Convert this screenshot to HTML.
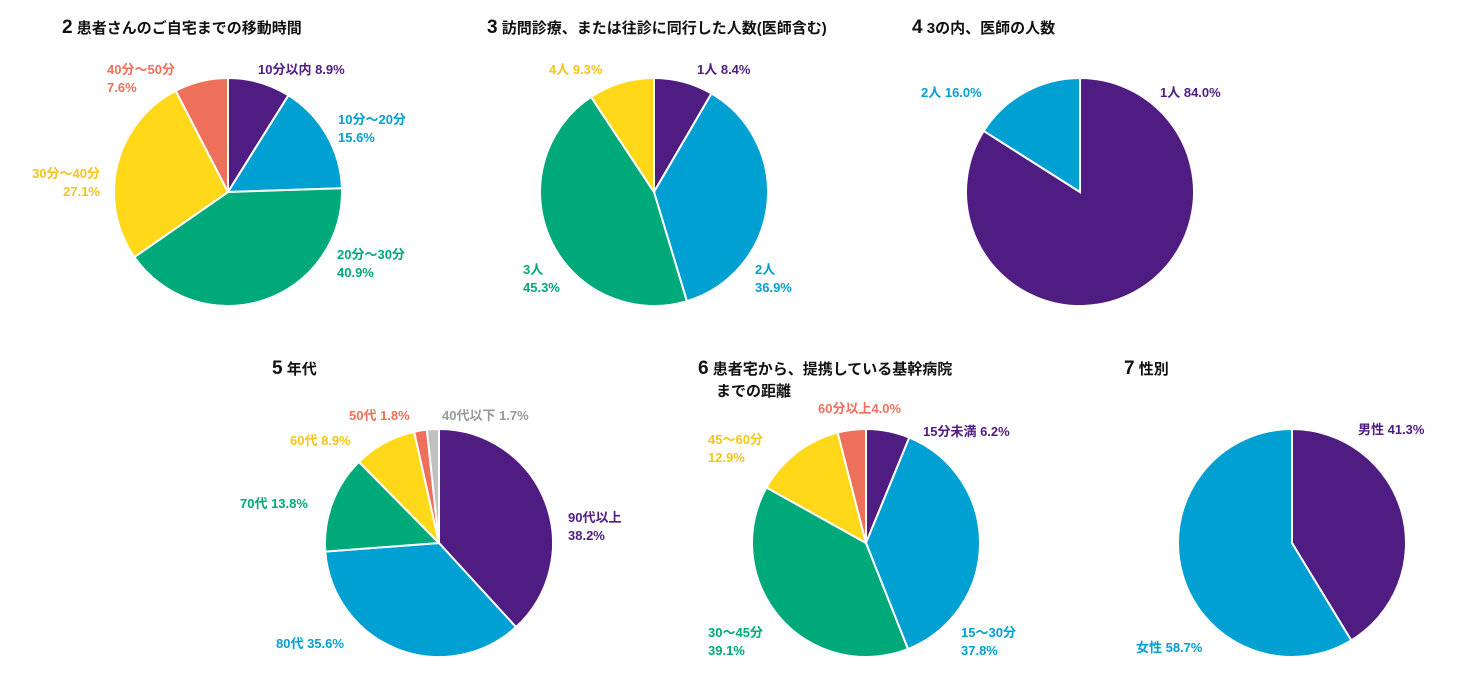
<!DOCTYPE html>
<html><head><meta charset="utf-8"><style>
html,body{margin:0;padding:0;background:#fff;}
svg{display:block;font-family:"Liberation Sans","Noto Sans CJK JP",sans-serif;}
.t{font-size:15px;font-weight:bold;fill:#111;}
.n{font-size:19px;font-weight:bold;fill:#111;}
.l{font-size:13px;font-weight:bold;}
</style></head><body>
<svg id="s" width="1464" height="683" viewBox="0 0 1464 683">
<g id="pies"></g>
<text x="62" y="33" class="t"><tspan class="n">2</tspan> 患者さんのご自宅までの移動時間</text>
<text x="487" y="33" class="t"><tspan class="n">3</tspan> 訪問診療、または往診に同行した人数(医師含む)</text>
<text x="912" y="33" class="t"><tspan class="n">4</tspan> 3の内、医師の人数</text>
<text x="272" y="374" class="t"><tspan class="n">5</tspan> 年代</text>
<text x="698" y="374" class="t"><tspan class="n">6</tspan> 患者宅から、提携している基幹病院</text>
<text x="716" y="396" class="t">までの距離</text>
<text x="1124" y="374" class="t"><tspan class="n">7</tspan> 性別</text>

<g class="l">
<text x="258" y="74" fill="#4f1c82">10分以内 8.9%</text>
<text x="338" y="124" fill="#00a0d2">10分～20分</text><text x="338" y="142" fill="#00a0d2">15.6%</text>
<text x="337" y="259" fill="#00a97a">20分～30分</text><text x="337" y="277" fill="#00a97a">40.9%</text>
<text x="100" y="178" fill="#f5c518" text-anchor="end">30分～40分</text><text x="100" y="196" fill="#f5c518" text-anchor="end">27.1%</text>
<text x="107" y="74" fill="#ee6f5a">40分～50分</text><text x="107" y="92" fill="#ee6f5a">7.6%</text>

<text x="697" y="74" fill="#4f1c82">1人 8.4%</text>
<text x="755" y="274" fill="#00a0d2">2人</text><text x="755" y="292" fill="#00a0d2">36.9%</text>
<text x="523" y="274" fill="#00a97a">3人</text><text x="523" y="292" fill="#00a97a">45.3%</text>
<text x="549" y="74" fill="#f5c518">4人 9.3%</text>

<text x="1160" y="97" fill="#4f1c82">1人 84.0%</text>
<text x="921" y="97" fill="#00a0d2">2人 16.0%</text>

<text x="568" y="522" fill="#4f1c82">90代以上</text><text x="568" y="540" fill="#4f1c82">38.2%</text>
<text x="276" y="648" fill="#00a0d2">80代 35.6%</text>
<text x="240" y="508" fill="#00a97a">70代 13.8%</text>
<text x="290" y="445" fill="#f5c518">60代 8.9%</text>
<text x="349" y="420" fill="#ee6f5a">50代 1.8%</text>
<text x="442" y="420" fill="#999">40代以下 1.7%</text>

<text x="923" y="436" fill="#4f1c82">15分未満 6.2%</text>
<text x="961" y="637" fill="#00a0d2">15～30分</text><text x="961" y="655" fill="#00a0d2">37.8%</text>
<text x="708" y="637" fill="#00a97a">30～45分</text><text x="708" y="655" fill="#00a97a">39.1%</text>
<text x="708" y="444" fill="#f5c518">45～60分</text><text x="708" y="462" fill="#f5c518">12.9%</text>
<text x="818" y="413" fill="#ee6f5a">60分以上4.0%</text>

<text x="1358" y="434" fill="#4f1c82">男性 41.3%</text>
<text x="1136" y="652" fill="#00a0d2">女性 58.7%</text>
</g>
</svg>
<script>
var P='#4f1c82',B='#00a0d2',G='#00a97a',Y='#ffd81a',S='#ee6f5a',R='#c0c0c0';
var pies=[
[228,192,[[8.9,P],[15.6,B],[40.9,G],[27.1,Y],[7.6,S]]],
[654,192,[[8.4,P],[36.9,B],[45.3,G],[9.3,Y]]],
[1080,192,[[84,P],[16,B]]],
[439,543,[[38.2,P],[35.6,B],[13.8,G],[8.9,Y],[1.8,S],[1.7,R]]],
[866,543,[[6.2,P],[37.8,B],[39.1,G],[12.9,Y],[4.0,S]]],
[1292,543,[[41.3,P],[58.7,B]]]];
var r=114,h='';
pies.forEach(function(p){var cx=p[0],cy=p[1],tot=0;p[2].forEach(function(s){tot+=s[0]});var a=0;
p[2].forEach(function(s){var a2=a+s[0]/tot*2*Math.PI;
var x1=cx+r*Math.sin(a),y1=cy-r*Math.cos(a),x2=cx+r*Math.sin(a2),y2=cy-r*Math.cos(a2);
h+='<path d="M'+cx+' '+cy+'L'+x1+' '+y1+'A'+r+' '+r+' 0 '+((a2-a)>Math.PI?1:0)+' 1 '+x2+' '+y2+'Z" fill="'+s[1]+'" stroke="#fff" stroke-width="2"/>';a=a2;});});
document.getElementById('pies').innerHTML=h;
</script>
</body></html>
